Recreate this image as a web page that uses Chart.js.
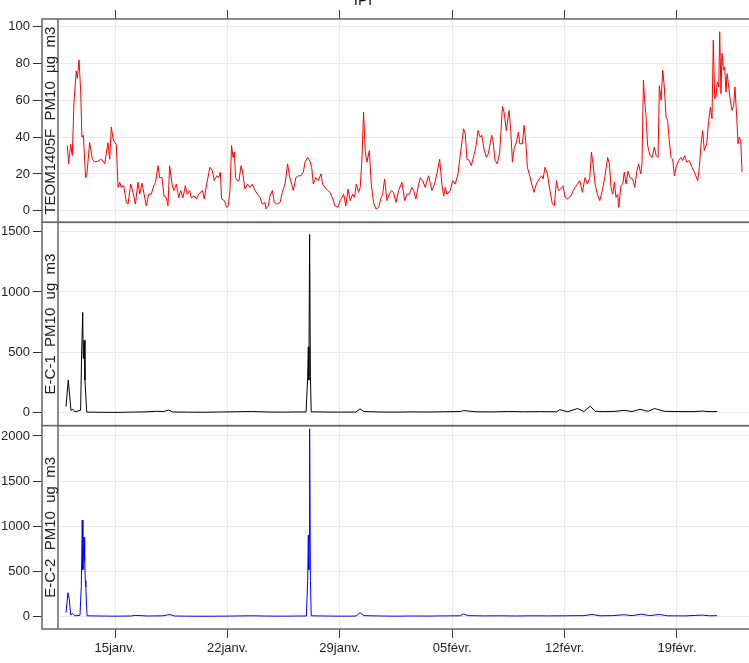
<!DOCTYPE html>
<html>
<head>
<meta charset="utf-8">
<script src="https://cdn.jsdelivr.net/npm/chart.js@4.4.0/dist/chart.umd.min.js"></script>
<style>
html, body { margin: 0; padding: 0; background: #fff; overflow: hidden; }
#wrap { position: relative; width: 760px; height: 663px; }
</style>
</head>
<body>
<div id="wrap"><canvas id="chart"></canvas></div>
<script>
// x values are days counted from 1 Jan (15 = 15 janv., 36 = 05 févr.)
let tickDays = [15, 22, 29, 36, 43, 50];
let tickLabels = ["15janv.", "22janv.", "29janv.", "05févr.", "12févr.", "19févr."];
let stripLabels = ["TEOM1405F  PM10  µg  m3", "E-C-1  PM10  ug  m3", "E-C-2  PM10  ug  m3"];

let teomDays = [
  12.03,12.11,12.24,12.34,12.45,12.59,12.65,12.76,12.86,12.94,13.03,13.17,13.24,13.42,13.59,13.73,13.94,14.15,14.25,14.36,
  14.56,14.67,14.77,14.88,14.98,15.08,15.19,15.29,15.39,15.54,15.71,15.81,15.98,16.12,16.27,16.43,16.54,16.68,16.81,16.95,
  17.1,17.26,17.41,17.53,17.68,17.78,17.93,18.05,18.2,18.3,18.4,18.55,18.67,18.82,18.97,19.09,19.23,19.38,19.5,19.65,
  19.75,19.92,20.07,20.21,20.44,20.56,20.71,20.91,21.06,21.18,21.33,21.47,21.56,21.64,21.81,21.95,22.06,22.16,22.26,22.35,
  22.43,22.51,22.62,22.72,22.85,22.95,23.09,23.26,23.41,23.55,23.72,23.88,24.03,24.17,24.34,24.4,24.55,24.65,24.8,24.92,
  25.07,25.28,25.42,25.59,25.75,25.86,26.0,26.1,26.27,26.42,26.58,26.73,26.83,27.0,27.14,27.25,27.35,27.5,27.66,27.83,
  27.93,28.08,28.24,28.39,28.53,28.7,28.88,29.03,29.24,29.38,29.51,29.65,29.8,29.92,30.03,30.17,30.27,30.38,30.48,30.59,
  30.69,30.84,30.96,31.1,31.25,31.42,31.58,31.67,31.79,31.94,32.08,32.21,32.35,32.5,32.66,32.87,33.04,33.18,33.33,33.49,
  33.6,33.74,33.87,34.01,34.16,34.32,34.53,34.74,34.9,35.07,35.22,35.36,35.47,35.57,35.67,35.88,36.03,36.19,36.36,36.56,
  36.71,36.81,36.92,37.06,37.19,37.35,37.47,37.61,37.74,37.84,37.98,38.13,38.25,38.36,38.46,38.54,38.67,38.81,38.96,39.13,
  39.23,39.37,39.54,39.64,39.75,39.85,40.0,40.12,40.21,40.37,40.48,40.58,40.68,40.83,40.95,41.1,41.24,41.41,41.58,41.66,
  41.78,41.93,42.07,42.24,42.36,42.49,42.61,42.76,42.9,43.03,43.17,43.38,43.59,43.8,43.94,44.11,44.27,44.42,44.57,44.67,
  44.77,44.9,45.04,45.19,45.35,45.5,45.68,45.79,45.89,46.0,46.1,46.2,46.31,46.37,46.51,46.62,46.72,46.83,46.95,47.07,
  47.24,47.37,47.49,47.61,47.74,47.82,47.91,47.99,48.07,48.17,48.32,48.45,48.59,48.7,48.82,48.9,49.01,49.11,49.21,49.32,
  49.42,49.52,49.63,49.73,49.84,49.94,50.11,50.25,50.36,50.48,50.6,50.77,50.94,51.08,51.29,51.39,51.5,51.6,51.7,51.85,
  51.97,52.08,52.18,52.26,52.35,52.43,52.51,52.6,52.66,52.74,52.8,52.89,52.97,53.05,53.12,53.22,53.32,53.43,53.53,53.61,
  53.72,53.8,53.88,53.97,54.05
];
let teomValues = [
  35.5,25.5,36,30,60,76,72,82,65.5,40,41,18,19,37,28,26.5,27,28,27,25.5,
  37,28,45.5,39,37,36,12.7,15.5,12.7,13.6,4.5,3.6,14.5,10,3.6,15.5,9,15,9,2.7,
  9,9,13.6,15.5,24.5,18,18,8,7,2.7,24.5,14.5,11,14.5,7,11,7,13.6,9,11,
  7,8,6.4,9,11,6.4,14.5,23.6,21.8,16.4,19,18,21,6.4,5.5,1.8,2.7,11,35.5,29,
  32,18,16.4,16.4,24.5,21,11.8,14.5,12.7,14.5,11,9,7.3,3.6,4.5,1,2.7,8,11,4.5,
  3.6,4.5,10,14.5,25.5,19,14.5,11,18,19,19,21,26.4,29,27,23.6,14.5,18,16.4,20,
  14.5,12.7,11,10,7.3,2.7,1.8,5.5,9,2.7,11.8,5.5,9,7.3,14.5,10,12.7,28,53.6,32,
  26.4,32.7,14.5,4.5,1,1.8,7.3,9,17.3,5.5,9,11,10,4.5,11,15.5,5.5,9,9,12.7,
  11,6.4,12.7,18,16.4,12.7,19,11,14.5,21,28,14.5,8,12.7,9,11,16.4,14.5,20,34.5,
  44.5,41.8,28,27.3,24.5,30,34.5,43.6,40,41,33.6,29,31,36.4,41,38,27.3,25.5,31.8,56.7,
  53.6,43.6,54.5,44.5,26.4,33.6,37.3,42.7,36.4,36.4,46.4,38,23.6,19,14.5,10,14.5,17.3,19,17.3,
  23.6,20,11.8,3.6,2.7,16.4,11,11.8,13.6,7.3,6.4,8,11.8,14.5,16.4,10,18,14.5,18,31.8,
  25.5,14.5,9,5.5,11,18,29,25.5,12.7,9,15.5,7.3,9,1.8,13.6,14.5,21,14.5,21.5,18,
  17.3,12.7,21,25.5,20,25.5,71,59,51.8,35.5,30,29,34.5,30,29,68,60,76.4,67.3,51,
  49,38,29,28,19,23.6,27.3,29,27.3,30,26.4,27.3,23.6,21,16.4,23.6,36.4,43.6,32.7,36.4,
  49,56.4,50,92.7,61,61.8,70,67.3,97.3,63.6,85.5,76.4,78.2,64.5,74.5,67.3,60,54.5,57.3,67.3,
  51,36.4,40,38,21
];

let ec1Days = [
  11.95,12.09,12.2,12.26,12.37,12.5,12.71,12.86,12.92,12.99,13.02,13.05,13.08,13.13,13.17,13.24,14,15,16,17,
  17.6,18,18.35,18.6,19.5,20.5,21.5,22.5,23.5,24.5,25.5,26.5,26.9,27.0,27.04,27.07,27.08,27.12,27.17,27.22,
  28,29,30,30.26,30.5,31.5,32.5,33.5,34.5,35.5,36.5,36.7,37.5,38.5,39.5,40.5,41.5,42.5,42.7,43.2,
  43.8,44.2,44.6,44.9,45.5,46.2,46.7,47.2,47.7,48.2,48.6,49.2,50,51,51.6,52,52.5
];
let ec1Values = [
  50,270,105,20,30,8,15,20,480,830,450,560,600,270,170,5,4,3,5,8,
  12,10,22,6,5,4,6,8,10,6,5,7,6,300,545,350,270,1475,300,8,
  6,5,6,32,10,6,5,7,6,8,10,18,8,7,10,8,9,8,25,8,
  35,10,55,12,9,12,20,10,28,12,35,12,10,9,14,9,10
];

let ec2Days = [
  11.95,12.07,12.15,12.24,12.37,12.5,12.82,12.9,12.96,13.0,13.07,13.11,13.15,13.18,13.26,14,15,16,16.25,17,
  18,18.4,18.7,19.5,20.5,21.5,22.5,23.5,24.5,25.5,26.5,26.92,27.0,27.04,27.07,27.09,27.12,27.17,27.22,28,
  29,30,30.26,30.5,31.5,32.5,33.5,34.5,35.5,36.5,36.7,37,38,39,40,41,42,43,44.2,44.7,
  45.2,46,46.7,47.2,47.8,48.3,48.9,49.4,50.5,51.6,52,52.5
];
let ec2Values = [
  45,265,200,20,35,10,15,330,1070,520,880,620,400,330,10,8,6,8,15,8,
  10,25,8,6,5,6,8,10,7,6,8,8,400,900,520,880,2080,400,10,8,
  6,7,45,12,8,6,8,7,9,10,30,12,9,10,8,10,9,10,12,25,
  10,12,22,12,28,12,25,10,9,18,10,12
];

let teomTicks = [0, 20, 40, 60, 80, 100];
let ec1Ticks = [0, 500, 1000, 1500];
let ec2Ticks = [0, 500, 1000, 1500, 2000];

Chart.defaults.font.family = "'Liberation Sans', Arial, sans-serif";
Chart.defaults.color = "#222";

function toPoints(xs, ys) {
  let pts = [];
  for (let i = 0; i < xs.length; i++) {
    pts.push({x: xs[i], y: ys[i]});
  }
  return pts;
}

function yScale(min, max, ticks) {
  return {
    type: "linear",
    position: "left",
    stack: "panels",
    min: min,
    max: max,
    afterBuildTicks: s => { s.ticks = ticks.map(v => ({value: v})); },
    afterFit: s => { s.width = 42; },
    ticks: {font: {size: 13}, color: "#222", padding: 3, callback: v => String(v)},
    grid: {color: "#e9e9e9", tickColor: "#333", tickLength: 9},
    border: {display: false}
  };
}

// 115px <-> 15 janv., 16.057px per day, frame from 42 to 752
let xMin = 15 - 73 / 16.057;
let xMax = 15 + 637 / 16.057;

let framePlugin = {
  id: "frame",
  afterDraw(chart) {
    let c = chart.ctx;
    let a = chart.chartArea;
    let ids = ["y1", "y2", "y3"];
    c.save();
    for (let i = 0; i < ids.length; i++) {
      let s = chart.scales[ids[i]];
      c.fillStyle = "#fff";
      c.fillRect(a.left, s.top, 16, s.bottom - s.top);
      c.strokeStyle = "#666";
      c.lineWidth = 1.5;
      c.strokeRect(a.left, s.top, a.right - a.left, s.bottom - s.top);
      c.beginPath();
      c.moveTo(a.left + 16, s.top);
      c.lineTo(a.left + 16, s.bottom);
      c.stroke();
      c.save();
      c.translate(a.left + 8.5, (s.top + s.bottom) / 2);
      c.rotate(-Math.PI / 2);
      c.fillStyle = "#222";
      c.font = "15px 'Liberation Sans', Arial, sans-serif";
      c.textAlign = "center";
      c.textBaseline = "middle";
      c.fillText(stripLabels[i], 0, 0);
      c.restore();
    }
    c.fillStyle = "#111";
    c.font = "15px 'Liberation Sans', Arial, sans-serif";
    c.textAlign = "center";
    c.textBaseline = "alphabetic";
    c.fillText("IPI", 363, 5);
    c.restore();
  }
};

let ctx = document.getElementById("chart").getContext("2d");
let chart = new Chart(ctx, {
  type: "line",
  data: {
    datasets: [
      {label: "TEOM1405F", data: toPoints(teomDays, teomValues), yAxisID: "y1", borderColor: "#ff0000", borderWidth: 1, pointRadius: 0, tension: 0},
      {label: "E-C-1", data: toPoints(ec1Days, ec1Values), yAxisID: "y2", borderColor: "#000000", borderWidth: 1, pointRadius: 0, tension: 0},
      {label: "E-C-2", data: toPoints(ec2Days, ec2Values), yAxisID: "y3", borderColor: "#0000ff", borderWidth: 1, pointRadius: 0, tension: 0}
    ]
  },
  options: {
    animation: false,
    responsive: true,
    maintainAspectRatio: false,
    layout: {padding: {left: 0, right: 8, top: 0, bottom: 0}},
    plugins: {legend: {display: false}, tooltip: {enabled: false}, title: {display: false}},
    scales: {
      x: {
        type: "linear",
        position: "bottom",
        min: xMin,
        max: xMax,
        afterBuildTicks: s => { s.ticks = tickDays.map(v => ({value: v})); },
        afterFit: s => { s.height = 34; },
        ticks: {callback: (v, i) => tickLabels[i], font: {size: 13}, color: "#222", padding: 3, maxRotation: 0, autoSkip: false},
        grid: {color: "#e9e9e9", tickColor: "#333", tickLength: 9},
        border: {display: false}
      },
      xTop: {
        type: "linear",
        position: "top",
        min: xMin,
        max: xMax,
        afterBuildTicks: s => { s.ticks = tickDays.map(v => ({value: v})); },
        afterFit: s => { s.height = 19; },
        ticks: {display: false},
        grid: {drawOnChartArea: false, tickColor: "#333", tickLength: 9},
        border: {display: false}
      },
      // stacked left axes are placed bottom-up in definition order
      y3: yScale(-136, 2114, ec2Ticks),
      y2: yScale(-107, 1576, ec1Ticks),
      y1: yScale(-6.3, 104.2, teomTicks)
    }
  },
  plugins: [framePlugin]
});
</script>
</body>
</html>
